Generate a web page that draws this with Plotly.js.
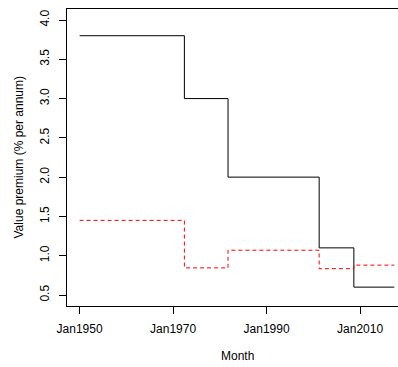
<!DOCTYPE html>
<html><head><meta charset="utf-8">
<script src="https://cdn.plot.ly/plotly-3.0.1.min.js"></script>
<style>html,body{margin:0;padding:0;overflow:hidden;background:#fff;width:398px;height:367px}</style>
</head><body><div id="chart" style="width:407px;height:367px"></div>
<script>
// Step breakpoints (month) and value premium levels (% per annum)
const breakDates = ['1950-01-01','1972-06-01','1981-10-01','2001-04-01','2008-09-01','2017-05-01'];
const premiumBlack = [3.8, 3.0, 2.0, 1.1, 0.6, 0.6];
const premiumRed = [1.45, 0.845, 1.07, 0.835, 0.88, 0.88];
const xTickDates = ['1950-01-01','1970-01-01','1990-01-01','2010-01-01'];
const xTickLabels = ['Jan1950','Jan1970','Jan1990','Jan2010'];
const yTickVals = [0.5, 1.0, 1.5, 2.0, 2.5, 3.0, 3.5, 4.0];
const yTickLabels = ['0.5','1.0','1.5','2.0','2.5','3.0','3.5','4.0'];

const font = {family: 'Liberation Sans, Arial, sans-serif', size: 12, color: '#000'};

const traces = [
  {x: breakDates, y: premiumBlack, type: 'scatter', mode: 'lines',
   line: {shape: 'hv', color: '#000', width: 1}, hoverinfo: 'skip'},
  {x: breakDates, y: premiumRed, type: 'scatter', mode: 'lines',
   line: {shape: 'hv', color: '#ff0000', width: 1, dash: '4px,3px'}, hoverinfo: 'skip'}
];

const layout = {
  width: 407, height: 367,
  margin: {l: 67, r: 0, t: 9, b: 61},
  paper_bgcolor: '#fff', plot_bgcolor: '#fff',
  showlegend: false,
  font: font,
  xaxis: {
    type: 'date', range: ['1947-04-22', '2020-01-15'],
    tickvals: xTickDates, ticktext: xTickLabels,
    showgrid: false, zeroline: false,
    showline: true, linecolor: '#000', linewidth: 1, mirror: true,
    ticks: 'outside', ticklen: 7, tickcolor: '#000', tickwidth: 1,
    ticklabelstandoff: 5,
    tickfont: font
  },
  yaxis: {
    range: [0.36, 4.14],
    tickvals: yTickVals, ticktext: yTickLabels, tickangle: -90,
    showgrid: false, zeroline: false,
    showline: true, linecolor: '#000', linewidth: 1, mirror: true,
    ticks: 'outside', ticklen: 7, tickcolor: '#000', tickwidth: 1,
    ticklabelstandoff: 5,
    tickfont: font
  },
  annotations: [
    {text: 'Month', xref: 'paper', yref: 'paper', x: 0.5, y: 0,
     xanchor: 'center', yanchor: 'middle', yshift: -50, showarrow: false, font: font},
    {text: 'Value premium (% per annum)', xref: 'paper', yref: 'paper', x: 0, y: 0.5,
     xanchor: 'center', yanchor: 'middle', xshift: -49, textangle: -90, showarrow: false, font: font}
  ]
};

Plotly.newPlot('chart', traces, layout, {staticPlot: true, displayModeBar: false});
</script>
</body></html>
